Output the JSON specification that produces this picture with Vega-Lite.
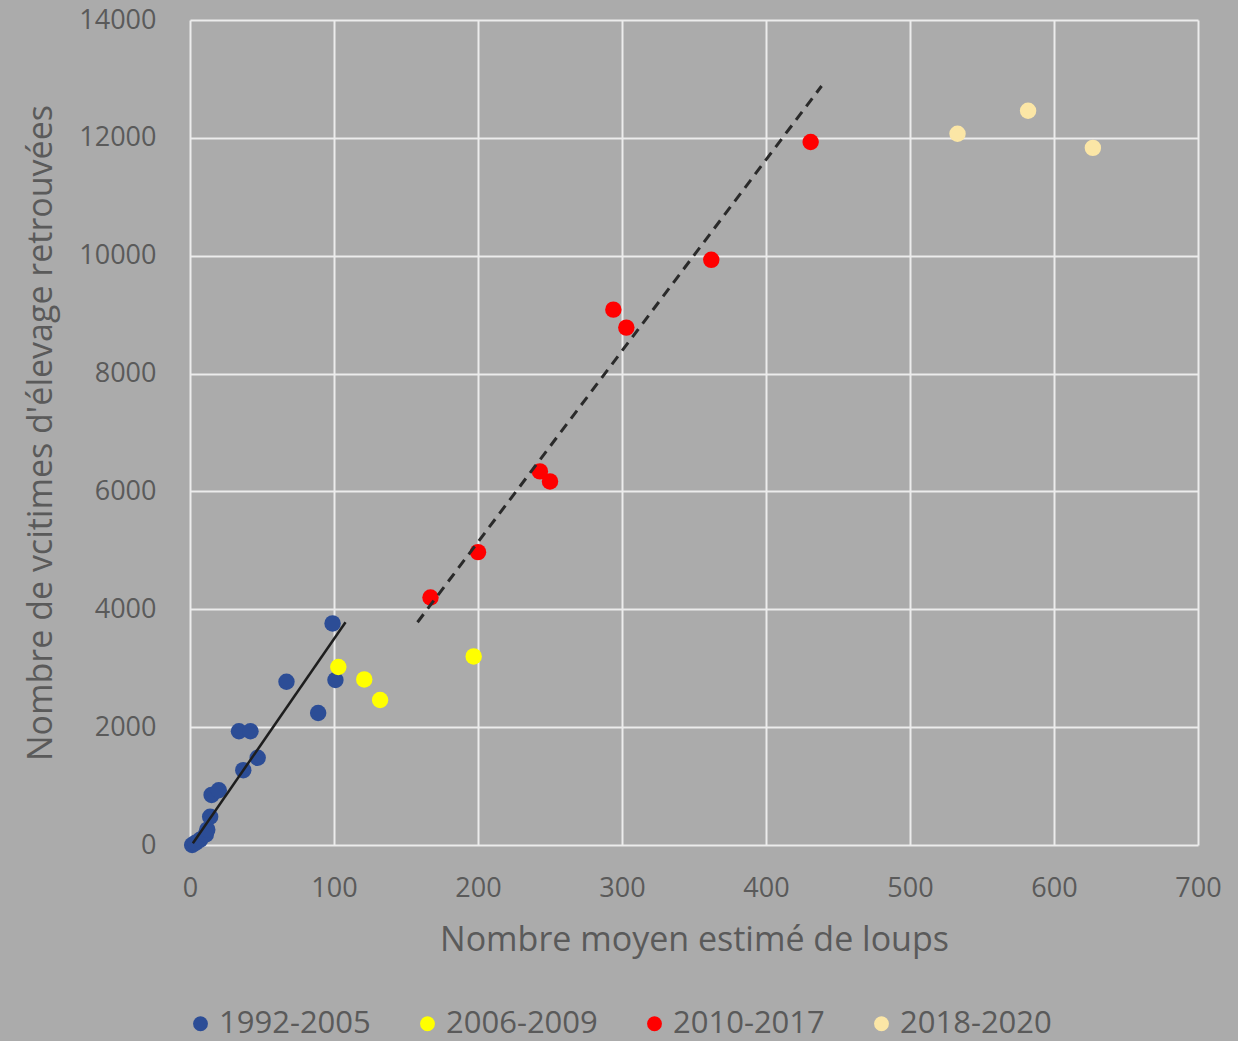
{
  "$schema": "https://vega.github.io/schema/vega-lite/v6.json",
  "width": 1008,
  "height": 825,
  "autosize": {"type": "none"},
  "padding": {"left": 190, "top": 20, "right": 40, "bottom": 196},
  "background": "#ababab",
  "config": {
    "view": {"stroke": null},
    "font": "Open Sans",
    "axis": {
      "domain": false,
      "ticks": false,
      "grid": true,
      "gridColor": "#ececec",
      "gridWidth": 2,
      "labelColor": "#5a5a5a",
      "titleColor": "#5a5a5a",
      "labelFont": "Open Sans",
      "titleFont": "Open Sans",
      "labelFontSize": 27,
      "titleFontSize": 34,
      "titleFontWeight": "normal",
      "labelFlush": false,
      "format": "d"
    },
    "legend": {
      "labelFont": "Open Sans",
      "labelFontSize": 31,
      "labelColor": "#5a5a5a"
    }
  },
  "datasets": {
    "pts": [
      {"loups": 1.5, "victimes": 0, "periode": "1992-2005"},
      {"loups": 4, "victimes": 40, "periode": "1992-2005"},
      {"loups": 7, "victimes": 90, "periode": "1992-2005"},
      {"loups": 11, "victimes": 180, "periode": "1992-2005"},
      {"loups": 12, "victimes": 260, "periode": "1992-2005"},
      {"loups": 14, "victimes": 480, "periode": "1992-2005"},
      {"loups": 15, "victimes": 850, "periode": "1992-2005"},
      {"loups": 20, "victimes": 930, "periode": "1992-2005"},
      {"loups": 37, "victimes": 1270, "periode": "1992-2005"},
      {"loups": 47, "victimes": 1480, "periode": "1992-2005"},
      {"loups": 34, "victimes": 1930, "periode": "1992-2005"},
      {"loups": 42, "victimes": 1930, "periode": "1992-2005"},
      {"loups": 67, "victimes": 2770, "periode": "1992-2005"},
      {"loups": 89, "victimes": 2240, "periode": "1992-2005"},
      {"loups": 101, "victimes": 2800, "periode": "1992-2005"},
      {"loups": 99, "victimes": 3760, "periode": "1992-2005"},
      {"loups": 103, "victimes": 3020, "periode": "2006-2009"},
      {"loups": 121, "victimes": 2810, "periode": "2006-2009"},
      {"loups": 132, "victimes": 2460, "periode": "2006-2009"},
      {"loups": 197, "victimes": 3200, "periode": "2006-2009"},
      {"loups": 167, "victimes": 4200, "periode": "2010-2017"},
      {"loups": 200, "victimes": 4970, "periode": "2010-2017"},
      {"loups": 243, "victimes": 6340, "periode": "2010-2017"},
      {"loups": 250, "victimes": 6170, "periode": "2010-2017"},
      {"loups": 294, "victimes": 9085, "periode": "2010-2017"},
      {"loups": 303, "victimes": 8780, "periode": "2010-2017"},
      {"loups": 362, "victimes": 9930, "periode": "2010-2017"},
      {"loups": 431, "victimes": 11930, "periode": "2010-2017"},
      {"loups": 533, "victimes": 12070, "periode": "2018-2020"},
      {"loups": 582, "victimes": 12460, "periode": "2018-2020"},
      {"loups": 627, "victimes": 11830, "periode": "2018-2020"}
    ],
    "tendances": [
      {"loups": 2, "victimes": 30, "tendance": "1992-2005"},
      {"loups": 108, "victimes": 3780, "tendance": "1992-2005"},
      {"loups": 158, "victimes": 3780, "tendance": "2010-2017"},
      {"loups": 438.6, "victimes": 12880, "tendance": "2010-2017"}
    ]
  },
  "layer": [
    {
      "data": {"name": "pts"},
      "mark": {"type": "point", "filled": true, "shape": "circle", "size": 270, "opacity": 1},
      "encoding": {
        "x": {
          "field": "loups", "type": "quantitative",
          "scale": {"domain": [0, 700], "nice": false},
          "axis": {"values": [0, 100, 200, 300, 400, 500, 600, 700], "labelPadding": 30, "titlePadding": 22},
          "title": "Nombre moyen estimé de loups"
        },
        "y": {
          "field": "victimes", "type": "quantitative",
          "scale": {"domain": [0, 14000], "nice": false},
          "axis": {"values": [0, 2000, 4000, 6000, 8000, 10000, 12000, 14000], "labelPadding": 34, "titlePadding": 20},
          "title": "Nombre de vcitimes d'élevage retrouvées"
        },
        "color": {
          "field": "periode", "type": "nominal",
          "scale": {
            "domain": ["1992-2005", "2006-2009", "2010-2017", "2018-2020"],
            "range": ["#2c4d96", "#ffff00", "#ff0000", "#fbe6a6"]
          },
          "legend": {
            "title": null,
            "orient": "none",
            "direction": "horizontal",
            "columns": 4,
            "legendX": -5,
            "legendY": 988,
            "symbolType": "circle",
            "symbolSize": 220,
            "columnPadding": 41,
            "labelOffset": 3
          }
        }
      }
    },
    {
      "data": {"name": "tendances"},
      "transform": [{"filter": "datum.tendance == '1992-2005'"}],
      "mark": {"type": "line", "color": "#1e1e1e", "strokeWidth": 2.5},
      "encoding": {
        "x": {"field": "loups", "type": "quantitative"},
        "y": {"field": "victimes", "type": "quantitative"}
      }
    },
    {
      "data": {"name": "tendances"},
      "transform": [{"filter": "datum.tendance == '2010-2017'"}],
      "mark": {"type": "line", "color": "#2a2a2a", "strokeWidth": 3, "strokeDash": [10, 7]},
      "encoding": {
        "x": {"field": "loups", "type": "quantitative"},
        "y": {"field": "victimes", "type": "quantitative"}
      }
    }
  ]
}
